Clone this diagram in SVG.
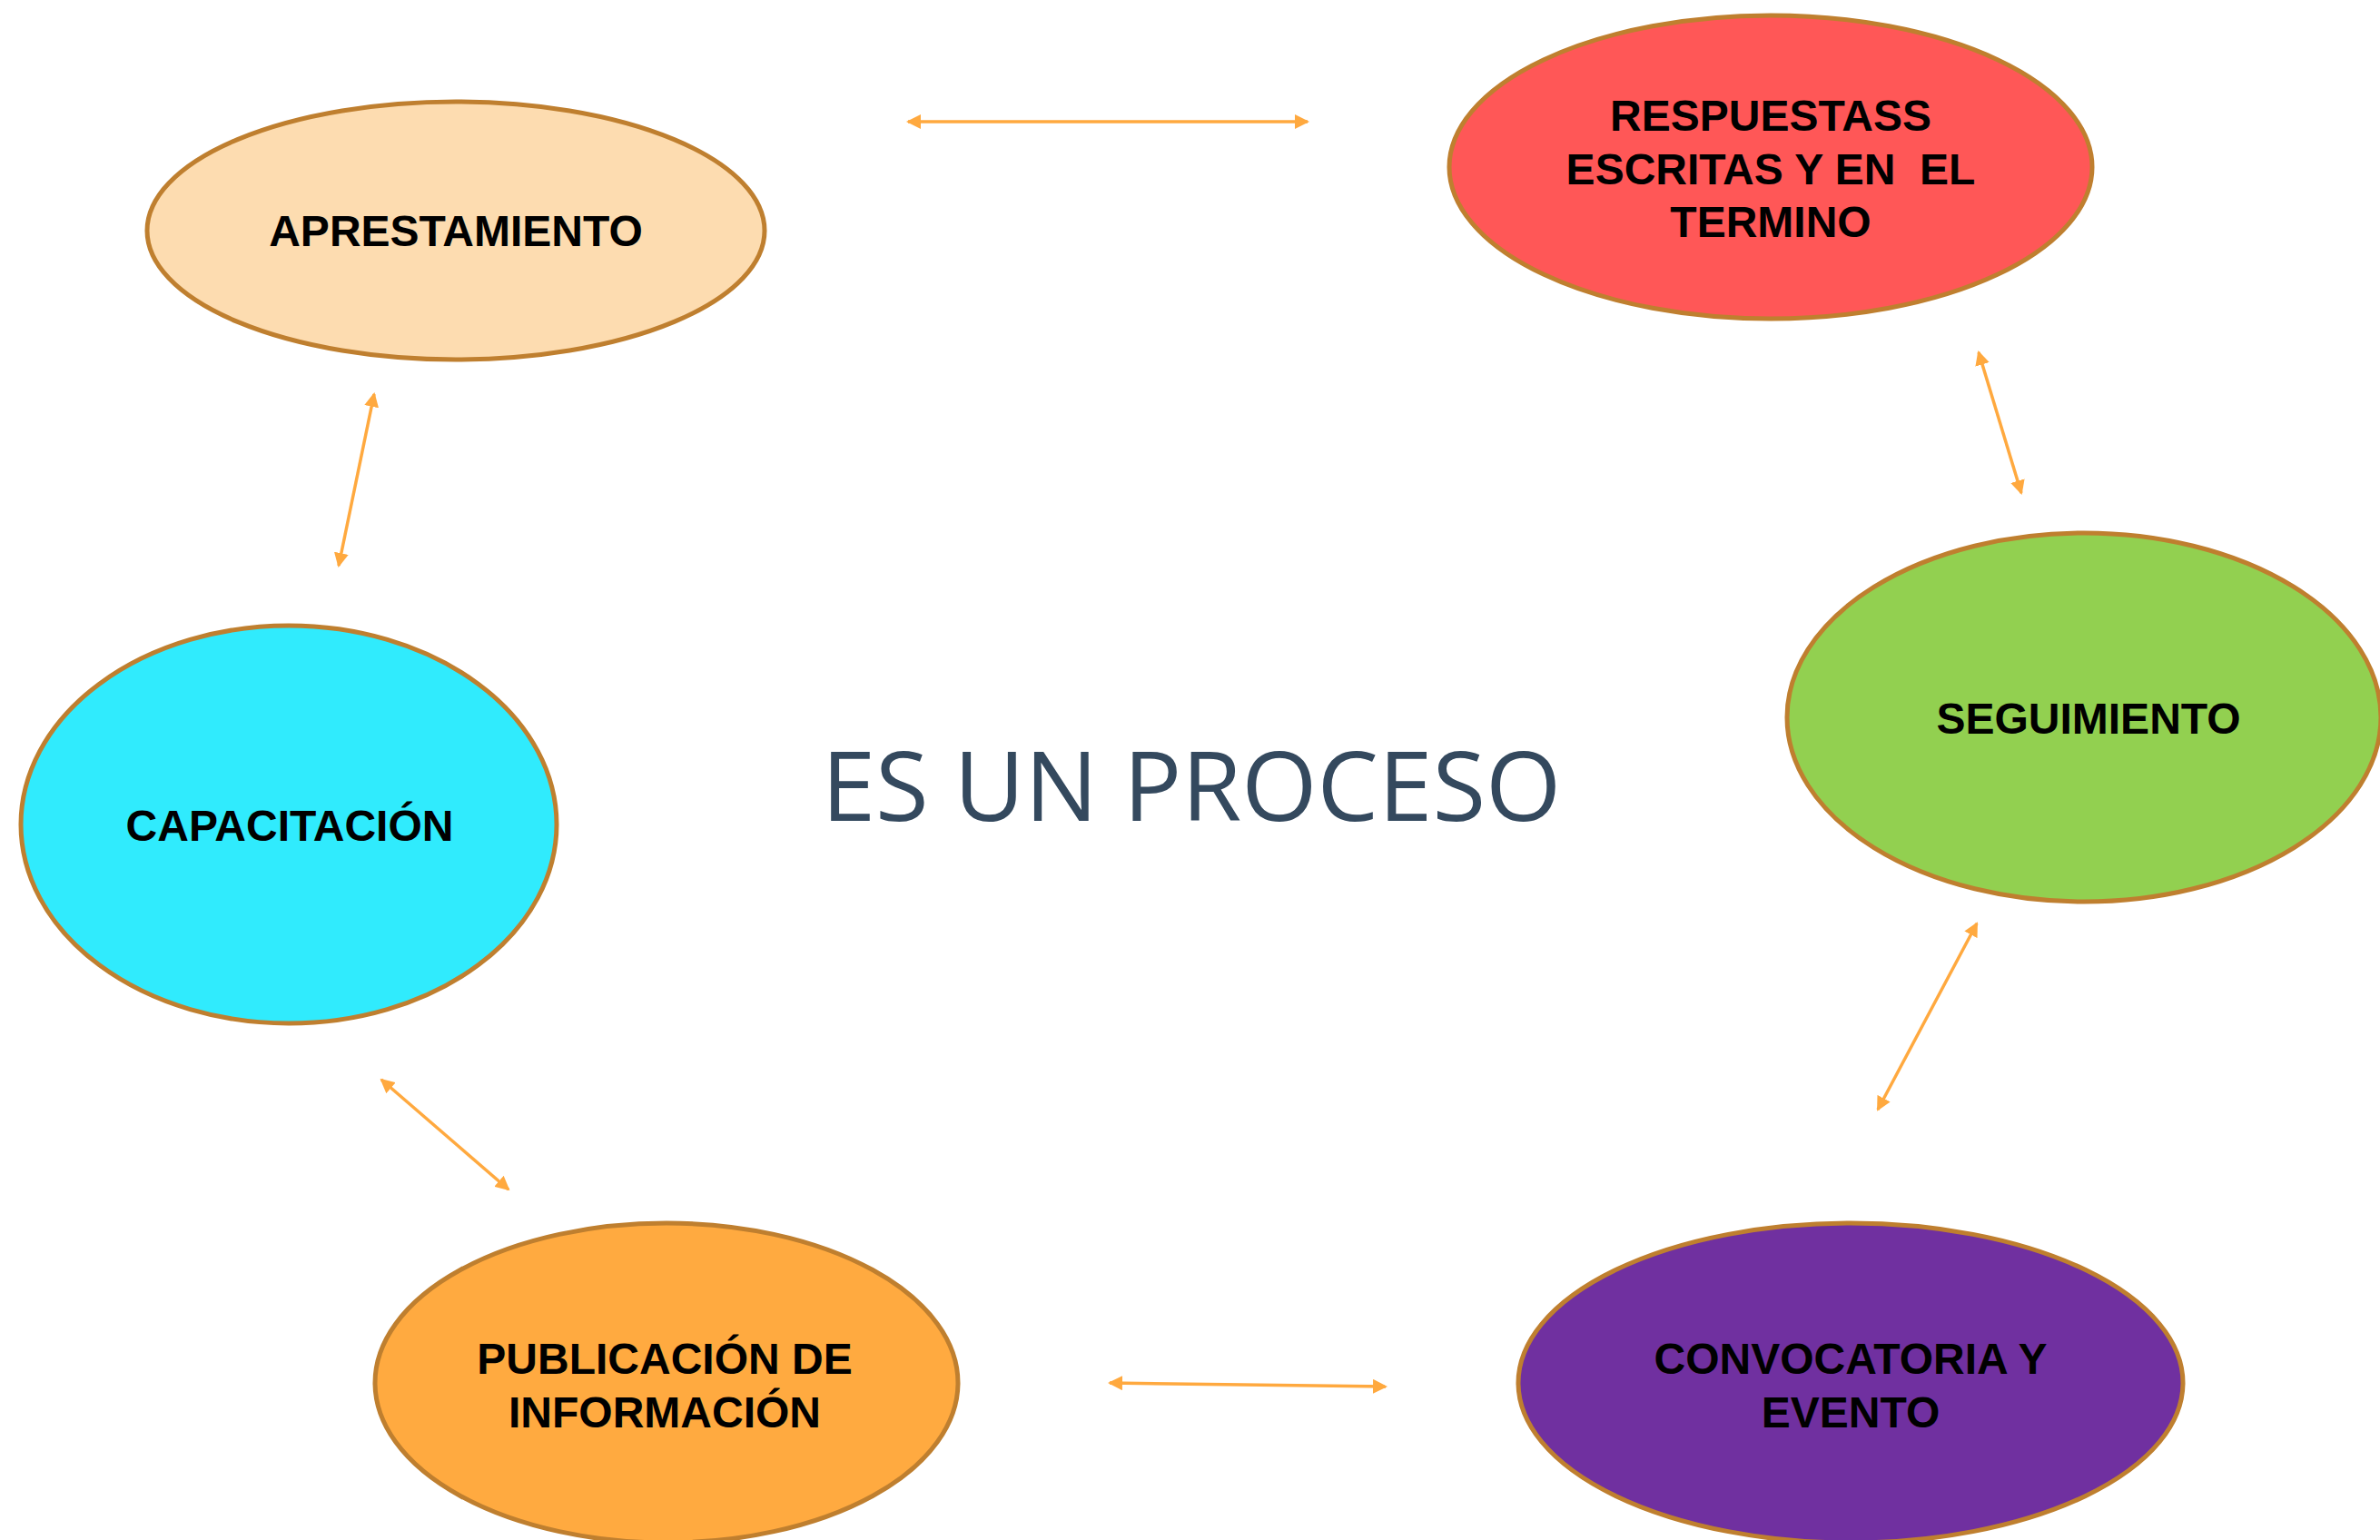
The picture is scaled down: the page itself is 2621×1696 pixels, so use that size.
<svg xmlns="http://www.w3.org/2000/svg" width="2621" height="1696" viewBox="0 0 2621 1696">
<style>
.node{stroke:#BF7F2F;stroke-width:5}
.lbl{font-family:"Liberation Sans",Arial,sans-serif;font-weight:bold;font-size:48px;fill:#000;text-anchor:middle;white-space:pre}
.conn{stroke:#FFA93F;stroke-width:3.5;fill:none;marker-start:url(#ah);marker-end:url(#ah)}
.title{font-family:"Open Sans",sans-serif;font-size:107px;fill:#34495E;text-anchor:middle}
</style>
<defs>
<marker id="ah" viewBox="0 0 16 16" refX="14" refY="8" markerWidth="16" markerHeight="16" markerUnits="userSpaceOnUse" orient="auto-start-reverse">
<path d="M0,0 L16,8 L0,16 Z" fill="#FFA93F"/>
</marker>
</defs>
<rect width="2621" height="1696" fill="#fff"/>
<g id="connectors">
<line class="conn" x1="1000" y1="134" x2="1440" y2="134"/>
<line class="conn" x1="412" y1="434" x2="373" y2="623"/>
<line class="conn" x1="2179" y1="388" x2="2226" y2="543"/>
<line class="conn" x1="2177" y1="1017" x2="2068" y2="1222"/>
<line class="conn" x1="420" y1="1189" x2="560" y2="1310"/>
<line class="conn" x1="1222" y1="1523" x2="1526" y2="1527"/>
</g>
<g id="aprestamiento">
<ellipse class="node" cx="502" cy="254" rx="340" ry="142" fill="#FDDCB0"/>
<text class="lbl" x="502" y="271">APRESTAMIENTO</text>
</g>
<g id="respuestas">
<ellipse class="node" cx="1950" cy="184" rx="354" ry="167" fill="#FF5757"/>
<text class="lbl" x="1950" y="144">RESPUESTASS</text>
<text class="lbl" x="1950" y="203">ESCRITAS Y EN  EL</text>
<text class="lbl" x="1950" y="261">TERMINO</text>
</g>
<g id="seguimiento">
<ellipse class="node" cx="2295" cy="790" rx="327" ry="203" fill="#92D050"/>
<text class="lbl" x="2300" y="808">SEGUIMIENTO</text>
</g>
<g id="capacitacion">
<ellipse class="node" cx="318" cy="908" rx="295" ry="219" fill="#30EBFD"/>
<text class="lbl" x="319" y="926">CAPACITACIÓN</text>
</g>
<g id="publicacion">
<ellipse class="node" cx="734" cy="1523" rx="321" ry="176" fill="#FFAA40"/>
<text class="lbl" x="732" y="1513">PUBLICACIÓN DE</text>
<text class="lbl" x="732" y="1572">INFORMACIÓN</text>
</g>
<g id="convocatoria">
<ellipse class="node" cx="2038" cy="1523" rx="366" ry="176" fill="#7030A0"/>
<text class="lbl" x="2038" y="1513">CONVOCATORIA Y</text>
<text class="lbl" x="2038" y="1572">EVENTO</text>
</g>
<g id="title">
<text class="title" x="1312" y="904">ES UN PROCESO</text>
</g>
</svg>
